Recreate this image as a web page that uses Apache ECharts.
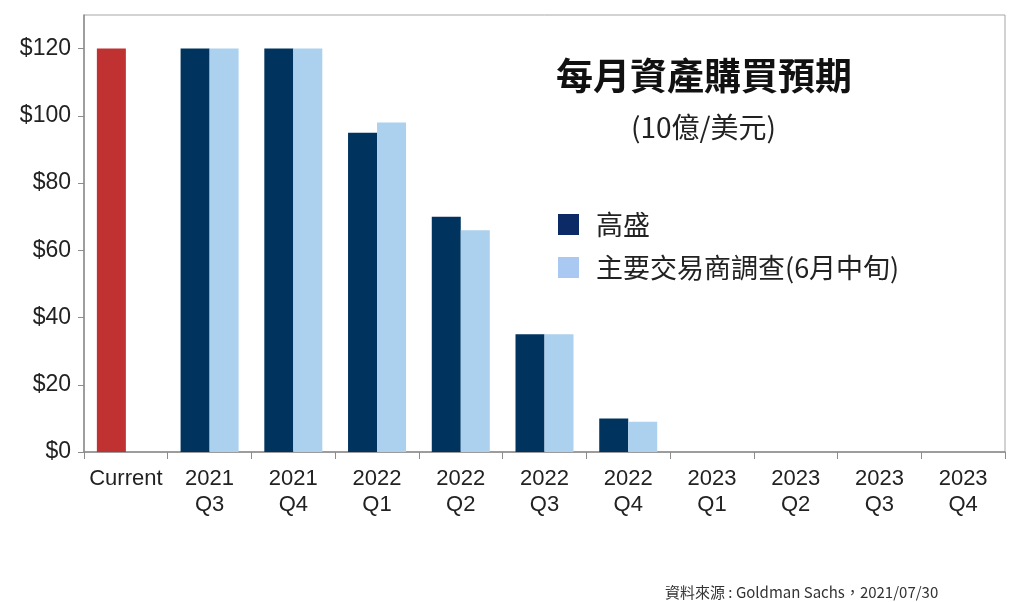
<!DOCTYPE html>
<html>
<head>
<meta charset="utf-8">
<script src="https://cdn.jsdelivr.net/npm/echarts@6/dist/echarts.min.js"></script>
<style>
  html, body { margin: 0; padding: 0; background: #fff; }
  #chart { width: 1024px; height: 602px; }
</style>
</head>
<body>
<div id="chart"></div>
<script>
// ---------------- data ----------------
const categories = [
    "Current", "2021\nQ3", "2021\nQ4", "2022\nQ1", "2022\nQ2", "2022\nQ3",
    "2022\nQ4", "2023\nQ1", "2023\nQ2", "2023\nQ3", "2023\nQ4",
];
const goldmanValues = [120, 120, 120, 95, 70, 35, 10, 0, 0, 0, 0];
const dealerValues = [null, 120, 120, 98, 66, 35, 9, 0, 0, 0, 0];
const seriesNames = ["高盛", "主要交易商調查(6月中旬)"];

const CJK = '"Noto Sans CJK TC", "Noto Sans CJK SC", sans-serif';
const LATIN = '"Liberation Sans", Arial, sans-serif';

const chart = echarts.init(document.getElementById("chart"));

chart.setOption({
    animation: false,
    grid: {
        left: 84, top: 15, right: 19, bottom: 150,
        show: true, borderColor: "#a6a6a6", borderWidth: 1,
    },
    title: [
        {
            text: "每月資產購買預期",
            left: 551, top: 52,
            textStyle: { fontFamily: CJK, fontSize: 37, fontWeight: "bold", color: "#111" },
        },
        {
            text: "(10億/美元)",
            left: 626, top: 108,
            textStyle: { fontFamily: CJK, fontSize: 28, fontWeight: "normal", color: "#222" },
        },
        {
            text: "資料來源 : Goldman Sachs，2021/07/30",
            left: 660, top: 580,
            textStyle: { fontFamily: CJK, fontSize: 15, fontWeight: "normal", color: "#333" },
        },
    ],
    legend: {
        orient: "vertical",
        left: 553, top: 206,
        icon: "rect",
        itemWidth: 21, itemHeight: 21,
        itemGap: 16,
        textStyle: { fontFamily: CJK, fontSize: 27, color: "#222", padding: [0, 0, 0, 12] },
        data: [
            { name: seriesNames[0], itemStyle: { color: "#0b2a66" } },
            { name: seriesNames[1], itemStyle: { color: "#a9c9f3" } },
        ],
    },
    xAxis: {
        type: "category",
        data: categories,
        axisLine: { lineStyle: { color: "#8c8c8c", width: 1.5 } },
        axisTick: { show: true, length: 7, lineStyle: { color: "#8c8c8c" } },
        axisLabel: {
            interval: 0, margin: 14,
            fontFamily: LATIN, fontSize: 22, lineHeight: 26, color: "#222",
        },
    },
    yAxis: {
        type: "value",
        min: 0, max: 130, interval: 20,
        splitLine: { show: false },
        axisLine: { show: true, lineStyle: { color: "#8c8c8c", width: 1.5 } },
        axisTick: { show: true, length: 6, lineStyle: { color: "#8c8c8c" } },
        axisLabel: {
            showMaxLabel: false, margin: 13,
            fontFamily: LATIN, fontSize: 23, color: "#222",
            formatter: (v) => "$" + v,
        },
    },
    series: [
        {
            name: seriesNames[0],
            type: "bar",
            barWidth: 29,
            barGap: "0%",
            itemStyle: { color: "#00345f" },
            data: goldmanValues.map((v, i) =>
                i === 0 ? { value: v, itemStyle: { color: "#c03232" } } : v),
        },
        {
            name: seriesNames[1],
            type: "bar",
            barWidth: 29,
            barGap: "0%",
            itemStyle: { color: "#abd1ef" },
            data: dealerValues,
        },
    ],
});
</script>
</body>
</html>
